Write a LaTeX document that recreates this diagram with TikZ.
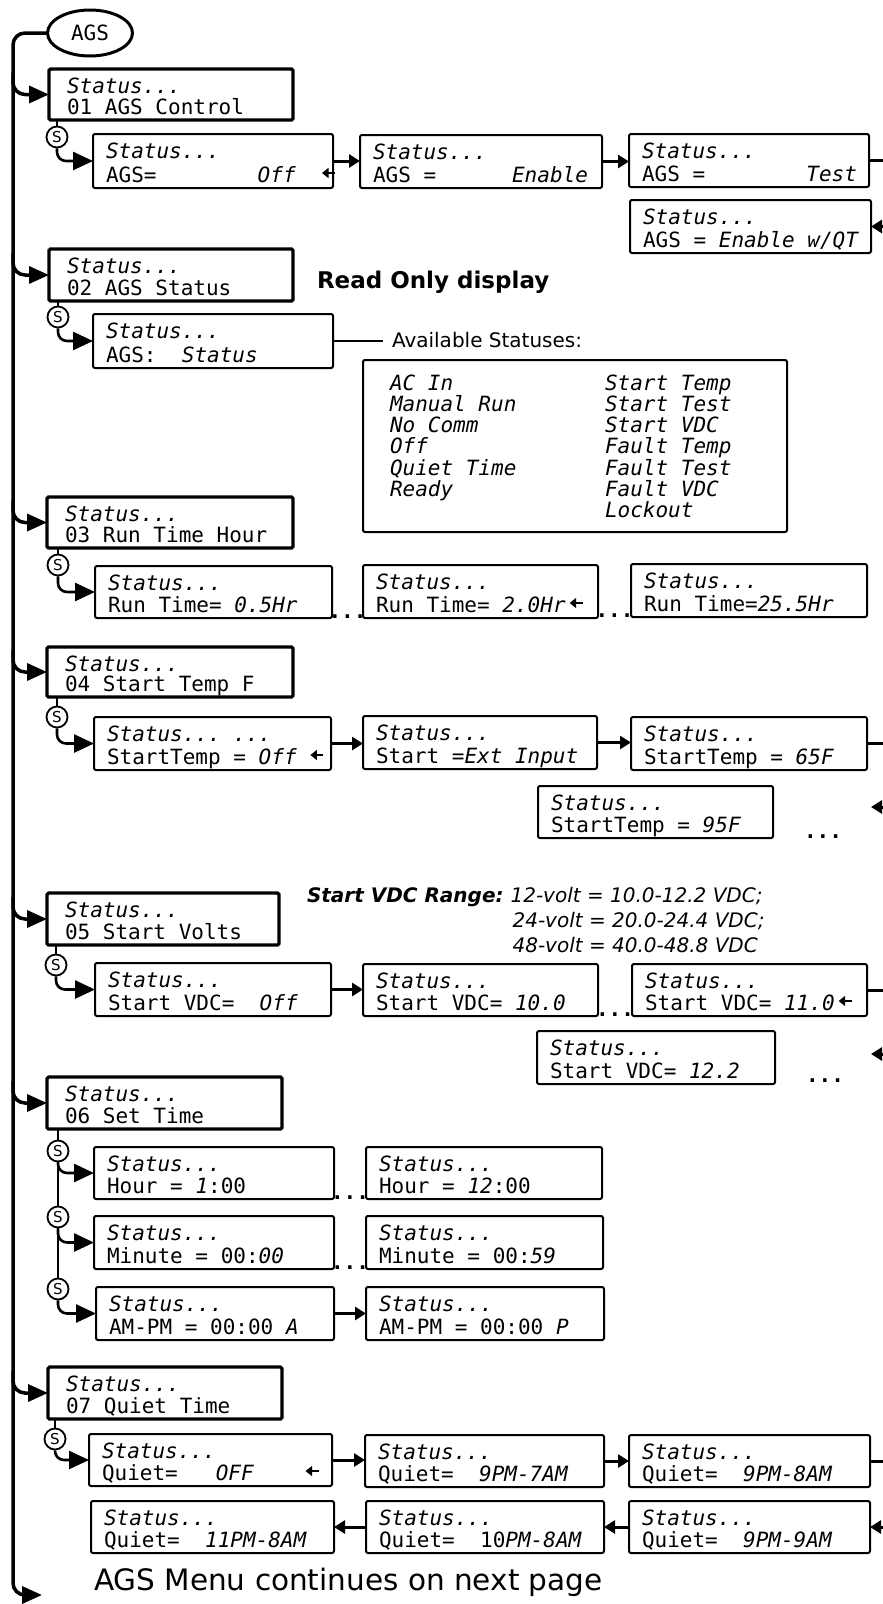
\documentclass[tikz,border=0pt]{standalone}
\usepackage{fontspec}
\setmainfont{DejaVu Sans}
\setsansfont{DejaVu Sans}
\setmonofont{DejaVu Sans Mono}
\usetikzlibrary{arrows.meta,shapes.geometric,calc}
\newcommand\larr{\kern1pt\tikz[baseline=0pt,x=1pt,y=1pt]{\draw[line width=2.4pt,line cap=butt] (13,9) -- (4,9); \fill (0,9) -- (6.5,3.8) -- (6.5,14.2) -- cycle;}}
\newcommand\st{\textit{Status...}}
\newcommand\menubox[6]{%
  \node[mainbox, minimum width={#4-#2}, minimum height={#5-#3}] (#1) at (#2,#3) {};
  \node[txt] (#1-a) at ([shift={(18,24)}]#1.north west) {\st};
  \node[txt] (#1-b) at ([shift={(18,-6)}]#1.south west) {#6};
}
\newcommand\lcdbox[7]{%
  \node[subbox, minimum width={#4-#2}, minimum height={#5-#3}] (#1) at (#2,#3) {};
  \node[txt] (#1-a) at ([shift={(13,24)}]#1.north west) {#6};
  \node[txt] (#1-b) at ([shift={(13,-6)}]#1.south west) {#7};
}
\begin{document}
\begin{tikzpicture}[x=1pt,y=-1pt,
  mainbox/.style={draw, line width=3.2pt, rounded corners=1.5pt, anchor=north west, inner sep=0, outer sep=0},
  subbox/.style={draw, line width=2pt, rounded corners=2pt, anchor=north west, inner sep=0, outer sep=0},
  txt/.style={anchor=base west, inner sep=0, outer sep=0, font=\ttfamily\fontsize{21}{21}\selectfont},
  mainline/.style={line width=3.5pt},
  brarrow/.style={line width=3.5pt, rounded corners=12pt, -{Triangle[length=20pt,width=17pt]}},
  sline/.style={line width=2.6pt},
  sarrow/.style={line width=2.6pt, rounded corners=9pt, -{Triangle[length=20pt,width=18pt]}},
  harrow/.style={line width=3pt, -{Triangle[length=11pt,width=13pt]}},
  hline/.style={line width=3pt},
  scirc/.style={draw, circle, line width=1.8pt, minimum size=21pt, inner sep=0, font=\sffamily\fontsize{15}{15}\selectfont},
  dots/.style={anchor=base, inner sep=0, font=\ttfamily\bfseries\fontsize{21}{21}\selectfont},
  sanstxt/.style={anchor=base west, inner sep=0, outer sep=0}
]
\fill[white] (0,0) rectangle (883,1604);
\useasboundingbox (0,0) rectangle (883,1604);

\coordinate (mainx) at (13,0);
\coordinate (endpt) at (42,1595);
\coordinate (edgeR) at (895,0);

% AGS start
\node[ellipse, draw, line width=3pt, minimum width=85pt, minimum height=46pt, inner sep=0,
      font=\ttfamily\fontsize{21}{21}\selectfont] (ags) at (90,33) {AGS};

% main menu boxes
\menubox{b01}{49}{69}{293}{120}{01 AGS Control}
\menubox{b02}{49}{249}{293}{301}{02 AGS Status}
\menubox{b03}{47}{497}{293}{548}{03 Run Time Hour}
\menubox{b04}{47}{647}{293}{697}{04 Start Temp F}
\menubox{b05}{47}{893}{279}{945}{05 Start Volts}
\menubox{b06}{47}{1077}{282}{1129}{06 Set Time}
\menubox{b07}{48}{1367}{282}{1419}{07 Quiet Time}

% 01
\lcdbox{c1}{93}{134}{333}{188}{\st}{AGS=~~~~~~~~\textit{Off}~~\larr}
\lcdbox{c2}{360}{135}{602}{188}{\st}{AGS~=~~~~~~\textit{Enable}}
\lcdbox{c3}{629}{134}{869}{187}{\st}{AGS~=~~~~~~~~\textit{Test}}
\lcdbox{c4}{630}{200}{871}{253}{\st}{AGS~=~\textit{Enable~w/QT}}
% 02
\lcdbox{s1}{93}{314}{333}{368}{\st}{AGS:~~\textit{Status}}
% 03
\lcdbox{r1}{95}{566}{332}{618}{\st}{Run~Time=~\textit{0.5Hr}}
\lcdbox{r2}{363}{565}{598}{618}{\st}{Run~Time=~\textit{2.0Hr}\kern3pt\larr}
\lcdbox{r3}{631}{564}{867}{617}{\st}{Run~Time=\textit{25.5Hr}}
% 04
\lcdbox{t1}{94}{717}{331}{770}{\st~\textit{...}}{StartTemp~=~\textit{Off}~\larr}
\lcdbox{t2}{363}{716}{597}{769}{\st}{Start~=\textit{Ext~Input}}
\lcdbox{t3}{631}{717}{867}{770}{\st}{StartTemp~=~\textit{65F}}
\lcdbox{t4}{538}{786}{773}{838}{\st}{StartTemp~=~\textit{95F}}
% 05
\lcdbox{v1}{95}{963}{331}{1016}{\st}{Start~VDC=~~\textit{Off}}
\lcdbox{v2}{363}{964}{598}{1016}{\st}{Start~VDC=~\textit{10.0}}
\lcdbox{v3}{632}{964}{867}{1016}{\st}{Start~VDC=~\textit{11.0}\kern3pt\larr}
\lcdbox{v4}{537}{1031}{775}{1084}{\st}{Start~VDC=~\textit{12.2}}
% 06
\lcdbox{h1}{94}{1147}{334}{1199}{\st}{Hour~=~\textit{1}:00}
\lcdbox{h2}{366}{1147}{602}{1199}{\st}{Hour~=~\textit{12}:00}
\lcdbox{m1}{94}{1216}{334}{1269}{\st}{Minute~=~00:\textit{00}}
\lcdbox{m2}{366}{1216}{603}{1269}{\st}{Minute~=~00:\textit{59}}
\lcdbox{ap1}{96}{1287}{334}{1340}{\st}{AM-PM~=~00:00~\textit{A}}
\lcdbox{ap2}{366}{1287}{604}{1340}{\st}{AM-PM~=~00:00~\textit{P}}
% 07
\lcdbox{q1}{89}{1434}{332}{1486}{\st}{Quiet=~~~\textit{OFF}~~~~\larr}
\lcdbox{q2}{365}{1435}{604}{1487}{\st}{Quiet=~~\textit{9PM-7AM}}
\lcdbox{q3}{629}{1435}{870}{1487}{\st}{Quiet=~~\textit{9PM-8AM}}
\lcdbox{q4}{629}{1501}{870}{1553}{\st}{Quiet=~~\textit{9PM-9AM}}
\lcdbox{q5}{366}{1501}{604}{1553}{\st}{Quiet=~~10\textit{PM-8AM}}
\lcdbox{q6}{91}{1501}{334}{1553}{\st}{Quiet=~~\textit{11PM-8AM}}

% statuses box
\node[subbox, minimum width=424pt, minimum height=172pt] (stat) at (363,360) {};
\foreach \t [count=\i from 0] in {AC In,Manual Run,No Comm,Off,Quiet Time,Ready}
  \node[txt] (statL\i) at (390,{390+21.3*\i}) {\textit{\t}};
\foreach \t [count=\i from 0] in {Start Temp,Start Test,Start VDC,Fault Temp,Fault Test,Fault VDC,Lockout}
  \node[txt] (statR\i) at (605,{390+21.3*\i}) {\textit{\t}};

% texts
\node[sanstxt, font=\sffamily\bfseries\fontsize{23}{23}\selectfont] (ro) at (317,288) {Read Only display};
\node[anchor=base west, inner xsep=9pt, inner ysep=0, outer sep=0, font=\sffamily\fontsize{20}{20}\selectfont] (avail) at (383,347) {Available Statuses:};
\node[sanstxt, font=\sffamily\bfseries\itshape\fontsize{20}{20}\selectfont] (rng) at (307,902) {Start VDC Range:\kern7pt};
\node[sanstxt, font=\sffamily\itshape\fontsize{20}{20}\selectfont] (v12) at (rng.base east) {12-volt = 10.0-12.2 VDC;};
\node[sanstxt, font=\sffamily\itshape\fontsize{20}{20}\selectfont] (v24) at ([shift={(2,25)}]v12.base west) {24-volt = 20.0-24.4 VDC;};
\node[sanstxt, font=\sffamily\itshape\fontsize{20}{20}\selectfont] (v48) at ([shift={(2,50)}]v12.base west) {48-volt = 40.0-48.8 VDC};
\node[sanstxt, font=\sffamily\fontsize{29.5}{29.5}\selectfont] (cont) at (94,1590) {AGS Menu continues on next page};

% dots
\node[dots] (d1) at ($(r1.south east)!0.5!(r2.south west)$) {...};
\node[dots] (d2) at ($(r2.south east)!0.5!(r3.south west)$) {...};
\node[dots] (d3) at (823,838) {...};
\node[dots] (d4) at ($(v2.south east)!0.5!(v3.south west)$) {...};
\node[dots] (d5) at (825,1082) {...};
\node[dots] (d6) at ($(h1.south east)!0.5!(h2.south west)$) {...};
\node[dots] (d7) at ($(m1.south east)!0.5!(m2.south west)$) {...};

% S circles
\node[scirc] (S01) at (57,137) {S};
\node[scirc] (S02) at (58,317) {S};
\node[scirc] (S03) at (58,565) {S};
\node[scirc] (S04) at (57,717) {S};
\node[scirc] (S05) at (56,965) {S};
\node[scirc] (S6a) at (58,1151) {S};
\node[scirc] (S6b) at (58,1217) {S};
\node[scirc] (S6c) at (58,1289) {S};
\node[scirc] (S07) at (55,1439) {S};

% main line
\draw[mainline, rounded corners=12pt, -{Triangle[length=20pt,width=17pt]}] (ags.west) -| (mainx |- endpt) -- (endpt);
\foreach \b in {b01,b02,b03,b04,b05,b06,b07}
  \draw[brarrow] ($(mainx |- \b.west)+(0,-22)$) |- (\b.west);

% S connections
\foreach \s/\b/\c in {S01/b01/c1,S02/b02/s1,S03/b03/r1,S04/b04/t1,S05/b05/v1,S07/b07/q1}{
  \draw[sline] (\s.north |- \b.south) -- (\s.north);
  \draw[sarrow] (\s.south) |- (\c.west);
}
\draw[sline] (S6a.north |- b06.south) -- (S6a.north);
\draw[sline] (S6a.south) -- (S6b.north);
\draw[sline] (S6b.south) -- (S6c.north);
\draw[sarrow] (S6a.south) |- (h1.west);
\draw[sarrow] (S6b.south) |- (m1.west);
\draw[sarrow] (S6c.south) |- (ap1.west);

% horizontal connectors
\draw[harrow] (c1.east) -- (c1.east -| c2.west);
\draw[harrow] (c2.east) -- (c2.east -| c3.west);
\draw[hline] (c3.east) -- (c3.east -| edgeR);
\draw[harrow] (c4.east -| edgeR) -- (c4.east);
\draw[line width=1.6pt] (s1.east) -- (s1.east -| avail.west);
\draw[harrow] (t1.east) -- (t1.east -| t2.west);
\draw[harrow] (t2.east) -- (t2.east -| t3.west);
\draw[hline] (t3.east) -- (t3.east -| edgeR);
\coordinate (t4in) at (871,807);
\draw[harrow] (t4in -| edgeR) -- (t4in);
\draw[harrow] (v1.east) -- (v1.east -| v2.west);
\draw[hline] (v3.east) -- (v3.east -| edgeR);
\coordinate (v4in) at (871,1054);
\draw[harrow] (v4in -| edgeR) -- (v4in);
\draw[harrow] (ap1.east) -- (ap1.east -| ap2.west);
\draw[harrow] (q1.east) -- (q1.east -| q2.west);
\draw[harrow] (q2.east) -- (q2.east -| q3.west);
\draw[hline] (q3.east) -- (q3.east -| edgeR);
\draw[harrow] (q4.east -| edgeR) -- (q4.east);
\draw[harrow] (q4.west) -- (q4.west -| q5.east);
\draw[harrow] (q5.west) -- (q5.west -| q6.east);
\end{tikzpicture}
\end{document}
